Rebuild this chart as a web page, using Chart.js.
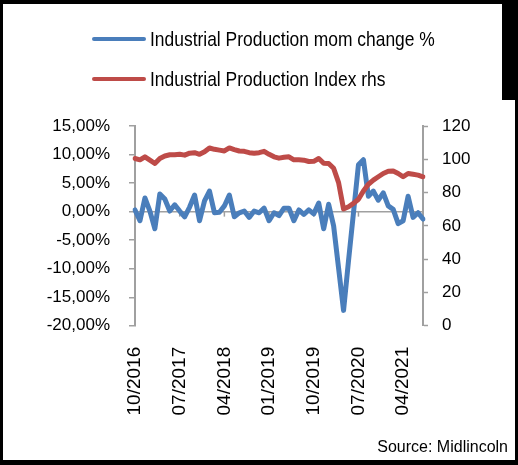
<!DOCTYPE html>
<html>
<head>
<meta charset="utf-8">
<script src="https://cdn.jsdelivr.net/npm/chart.js@4.4.1/dist/chart.umd.min.js"></script>
<style>
  html, body { margin: 0; padding: 0; background: #fff; }
  #wrap { position: relative; width: 518px; height: 465px; overflow: hidden; }
  canvas { display: block; }
  #frame { position: absolute; left: 0; top: 0; width: 518px; height: 465px; box-sizing: border-box;
           border-left: 3px solid #000; border-top: 4px solid #000; border-right: 3px solid #000; border-bottom: 5px solid #000;
           pointer-events: none; }
  #corner { position: absolute; left: 502px; top: 0; width: 16px; height: 100px; background: #000; pointer-events: none; }
  #legend { position: absolute; left: 0; top: 0; }
  #legend .item { position: absolute; left: 92px; height: 40px; white-space: nowrap; }
  #legend .swatch { position: absolute; left: 0; top: 18px; width: 54px; height: 4px; border-radius: 2px; }
  #legend .txt { position: absolute; left: 58px; top: 0; line-height: 40px; font-family: 'Liberation Sans', Arial, sans-serif;
                 font-size: 21px; color: #000; transform: scaleX(0.83); transform-origin: 0 50%; }
</style>
</head>
<body>
<div id="wrap">
  <canvas id="c" width="518" height="465"></canvas>
  <div id="legend"></div>
  <div id="frame"></div>
  <div id="corner"></div>
</div>
<script>
const months = [
  '10/2016','11/2016','12/2016',
  '01/2017','02/2017','03/2017','04/2017','05/2017','06/2017','07/2017','08/2017','09/2017','10/2017','11/2017','12/2017',
  '01/2018','02/2018','03/2018','04/2018','05/2018','06/2018','07/2018','08/2018','09/2018','10/2018','11/2018','12/2018',
  '01/2019','02/2019','03/2019','04/2019','05/2019','06/2019','07/2019','08/2019','09/2019','10/2019','11/2019','12/2019',
  '01/2020','02/2020','03/2020','04/2020','05/2020','06/2020','07/2020','08/2020','09/2020','10/2020','11/2020','12/2020',
  '01/2021','02/2021','03/2021','04/2021','05/2021','06/2021','07/2021','08/2021'
];

// Industrial Production mom change, %
const momChange = [
  0.3, -1.6, 2.4,
  0.1, -3.0, 3.1, 2.2, 0.1, 1.2, 0.1, -0.9, 0.8, 2.9, -1.6, 1.9,
  3.6, -0.2, -0.1, 1.0, 2.9, -0.9, -0.2, 0.1, -1.0, 0.1, -0.2, 0.6,
  -1.6, -0.2, -0.7, 0.6, 0.6, -1.6, 0.3, -0.5, 0.3, -0.4, 1.5, -3.0,
  1.3, -2.5, -9.9, -17.3, -8.6, -0.2, 8.2, 9.1, 2.7, 3.6, 2.0, 3.3,
  1.0, 0.4, -2.1, -1.6, 2.7, -1.0, -0.2, -1.3
];

// Industrial Production Index (rhs)
const ipIndex = [
  100.5, 99.7, 101.5,
  99.5, 97.5, 100.5, 102.0, 102.7, 102.7, 103.0, 102.5, 103.7, 104.0, 103.0, 104.5,
  106.8, 106.0, 105.5, 105.0, 106.8, 105.8, 105.0, 104.8, 104.0, 103.7, 104.0, 104.8,
  103.0, 101.5, 100.7, 101.2, 101.5, 99.7, 99.7, 99.5, 98.7, 98.8, 100.5, 97.6,
  97.5, 94.6, 86.0, 70.2, 71.5, 73.5, 76.0, 81.0, 85.0, 87.5, 89.5, 91.5,
  92.8, 93.0, 91.5, 89.5, 91.5, 91.0, 90.5, 89.5
];

const seriesNames = ['Industrial Production mom change %', 'Industrial Production Index rhs'];
const leftAxis = { min: -20, max: 15, step: 5 };
const rightAxis = { min: 0, max: 120, step: 20 };
const labelEvery = 9;
const sourceText = 'Source: Midlincoln';

const BLUE = '#4a7ebb';
const RED = '#be4b48';
const AXIS = '#a0a0a0';
const FONT = 'Liberation Sans, Arial, sans-serif';

// Tick marks on the category axis line (drawn at 0 %)
const zeroLineTicks = {
  id: 'zeroLineTicks',
  beforeDatasetsDraw(chart) {
    const x = chart.scales.x, y = chart.scales.y;
    const y0 = y.getPixelForValue(0);
    const ctx = chart.ctx;
    ctx.save();
    ctx.strokeStyle = AXIS;
    ctx.lineWidth = 1.5;
    months.forEach((m, i) => {
      if (i % labelEvery === 0) {
        const px = x.getPixelForValue(i);
        ctx.beginPath();
        ctx.moveTo(px, y0);
        ctx.lineTo(px, y0 + 5);
        ctx.stroke();
      }
    });
    ctx.restore();
  }
};

// HTML legend built from the chart's datasets
const htmlLegend = {
  id: 'htmlLegend',
  afterUpdate(chart) {
    const box = document.getElementById('legend');
    box.innerHTML = '';
    chart.data.datasets.forEach((ds, i) => {
      const row = document.createElement('div');
      row.className = 'item';
      row.style.top = (19 + 40 * i) + 'px';
      const sw = document.createElement('span');
      sw.className = 'swatch';
      sw.style.background = ds.borderColor;
      const tx = document.createElement('span');
      tx.className = 'txt';
      tx.textContent = ds.label;
      row.append(sw, tx);
      box.append(row);
    });
  }
};

new Chart(document.getElementById('c'), {
  type: 'line',
  data: {
    labels: months,
    datasets: [
      {
        label: seriesNames[0], data: momChange, yAxisID: 'y',
        borderColor: BLUE, backgroundColor: BLUE, borderWidth: 5,
        pointRadius: 0, tension: 0, borderJoinStyle: 'round', borderCapStyle: 'round', order: 1
      },
      {
        label: seriesNames[1], data: ipIndex, yAxisID: 'y1',
        borderColor: RED, backgroundColor: RED, borderWidth: 5,
        pointRadius: 0, tension: 0, borderJoinStyle: 'round', borderCapStyle: 'round', order: 0
      }
    ]
  },
  options: {
    responsive: false,
    animation: false,
    layout: { padding: { left: 0, right: 10, top: 126, bottom: 8 } },
    plugins: {
      tooltip: { enabled: false },
      legend: { display: false },
      subtitle: {
        display: true, text: sourceText, position: 'bottom', align: 'end',
        color: '#000', padding: 0, font: { family: FONT, size: 16, lineHeight: 1.2 }
      }
    },
    scales: {
      x: {
        type: 'category', offset: false,
        grid: { display: false, drawTicks: false },
        border: { display: false },
        ticks: {
          autoSkip: false, maxRotation: 90, minRotation: 90, padding: 21,
          color: '#000', font: { family: FONT, size: 19 },
          callback: (v, i) => (i % labelEvery === 0 ? months[i] : '')
        },
        afterFit: s => { s.height = 112; }
      },
      y: {
        position: 'left', min: leftAxis.min, max: leftAxis.max,
        ticks: {
          stepSize: leftAxis.step, padding: 19, color: '#000',
          font: { family: FONT, size: 17 },
          callback: v => v.toFixed(2).replace('.', ',') + '%'
        },
        grid: {
          color: c => (c.tick && c.tick.value === 0 ? AXIS : 'rgba(0,0,0,0)'),
          lineWidth: 1.5, tickColor: AXIS, tickLength: 6, tickWidth: 1.5
        },
        border: { color: AXIS, width: 2 },
        afterFit: s => { s.width = 135; }
      },
      y1: {
        position: 'right', min: rightAxis.min, max: rightAxis.max,
        ticks: {
          stepSize: rightAxis.step, padding: 14, color: '#000',
          font: { family: FONT, size: 17 }
        },
        grid: { color: 'rgba(0,0,0,0)', tickColor: AXIS, tickLength: 5, tickWidth: 1.5, drawOnChartArea: false },
        border: { color: AXIS, width: 2 },
        afterFit: s => { s.width = 85; }
      }
    }
  },
  plugins: [zeroLineTicks, htmlLegend]
});
</script>
</body>
</html>
